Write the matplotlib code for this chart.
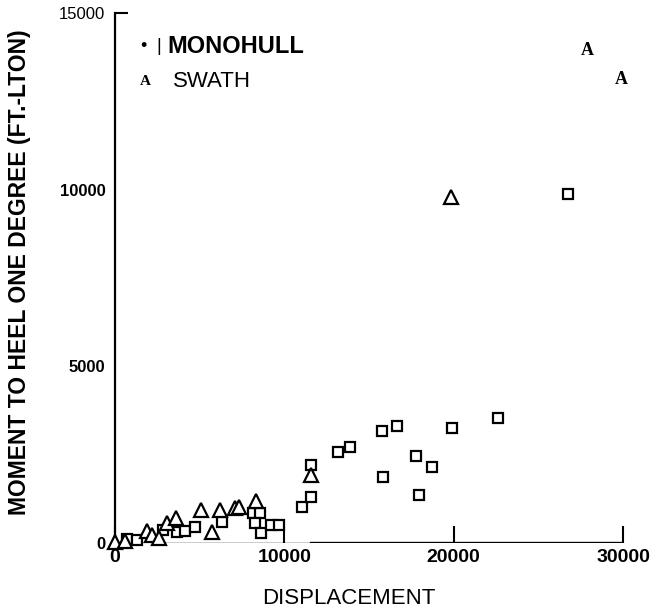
import matplotlib
matplotlib.use('Agg')
import matplotlib.pyplot as plt

plt.rcParams['font.family'] = ['Liberation Sans', 'DejaVu Sans']

# Monohull (squares): displacement, moment to heel one degree
mono_disp = [700, 1300, 2850, 3640, 4150, 4720, 6290, 8150, 8550, 8250,
             8650, 9240, 9680, 11040, 11600, 11560, 13170, 13870, 15760,
             16650, 15840, 17790, 18710, 17980, 19910, 22600, 26770]
mono_mth = [110, 90, 370, 320, 330, 460, 600, 840, 840, 560,
            280, 510, 500, 1010, 1290, 2210, 2570, 2730, 3180,
            3320, 1880, 2470, 2160, 1360, 3250, 3540, 9870]

# SWATH (triangles)
swath_disp = [0, 600, 1870, 2160, 2600, 3050, 3600, 5100, 5700, 6200,
              7070, 7330, 8350, 11560, 19850]
swath_mth = [40, 60, 340, 230, 150, 580, 700, 940, 320, 930,
             980, 1010, 1200, 1930, 9780]

x_ticks = [0, 10000, 20000, 30000]
y_ticks = [0, 5000, 10000, 15000]

fig = plt.figure(figsize=(6.54, 6.12), dpi=100)
ax = fig.add_axes([115 / 654, 69 / 612, 508 / 654, 530 / 612])

ax.plot(mono_disp, mono_mth, ls='none', marker='s', ms=7.5, mfc='white',
        mec='black', mew=1.6, clip_on=False, zorder=3)
ax.plot(swath_disp, swath_mth, ls='none', marker='^', ms=10, mfc='white',
        mec='black', mew=1.6, clip_on=False, zorder=3)

ax.set_xlim(0, 30000)
ax.set_ylim(0, 15000)

for side in ['top', 'right', 'bottom']:
    ax.spines[side].set_visible(False)
ax.spines['left'].set_linewidth(1.6)
# broken looking base line, thin then thick
ax.axhline(0, xmin=0, xmax=0.385, color='black', lw=1, zorder=2)
ax.axhline(0, xmin=0.385, xmax=1.0, color='black', lw=2.4, zorder=2)

ax.set_xticks(x_ticks)
ax.set_xticklabels([str(v) for v in x_ticks], fontweight='bold', fontsize=14)
ax.tick_params(axis='x', direction='in', length=12, width=1.5, pad=4)

ax.set_yticks(y_ticks)
ax.set_yticklabels([str(v) for v in y_ticks], fontsize=12)
ax.tick_params(axis='y', direction='in', length=9, width=1.5, pad=7)
for t, lab in zip(ax.yaxis.get_major_ticks(), ax.get_yticklabels()):
    if lab.get_text() != '15000':
        lab.set_fontweight('bold')
        t.tick1line.set_visible(False)

ax.set_xlabel('DISPLACEMENT', fontsize=16)
ax.xaxis.set_label_coords(0.461, -0.085)
ax.set_ylabel('MOMENT TO HEEL ONE DEGREE (FT.-LTON)', fontsize=16.5,
              fontweight='bold')
ax.yaxis.set_label_coords(-0.166, 0.511)

# legend as typed in the scan
ax.text(0.055, 0.936, '•', transform=ax.transAxes, fontsize=13,
        ha='center', va='center')
ax.text(0.087, 0.936, '|', transform=ax.transAxes, fontsize=13,
        ha='center', va='center')
ax.text(0.104, 0.936, 'MONOHULL', transform=ax.transAxes, fontsize=17,
        fontweight='bold', ha='left', va='center')
ax.text(0.059, 0.870, 'A', transform=ax.transAxes, fontsize=11,
        family='Liberation Serif', fontweight='bold', ha='center', va='center')
ax.text(0.1136, 0.870, 'SWATH', transform=ax.transAxes, fontsize=16,
        ha='left', va='center')

ax.text(0.929, 0.930, 'A', transform=ax.transAxes, fontsize=13,
        family='Liberation Serif', fontweight='bold', ha='center', va='center')
ax.text(0.997, 0.874, 'A', transform=ax.transAxes, fontsize=13,
        family='Liberation Serif', fontweight='bold', ha='center', va='center')

fig.savefig('out.png', dpi=100)
